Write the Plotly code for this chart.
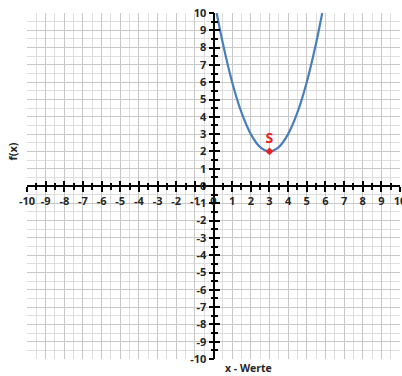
import plotly.graph_objects as go

# Parabola (vertex S at (3, 2))
x_vals = [0.17, 0.5, 1.0, 1.5, 2.0, 2.5, 3.0, 3.5, 4.0, 4.5, 5.0, 5.5, 5.83]
y_vals = [10.0, 8.25, 6.0, 4.25, 3.0, 2.25, 2.0, 2.25, 3.0, 4.25, 6.0, 8.25, 10.0]
vertex_x = [3]
vertex_y = [2]
vertex_label = ["S"]
tick_vals = list(range(-10, 11))
tick_text = [str(v) for v in tick_vals]

W, H = 402, 376
L, R, T, B = 27, 2, 13, 17

font_fam = "Open Sans"
tick_font = dict(family=font_fam, size=11, color="#262626", weight="bold")

fig = go.Figure()

fig.add_trace(go.Scatter(
    x=x_vals, y=y_vals, mode="lines",
    line=dict(color="#4a7ebb", width=2.2, shape="spline"),
    hoverinfo="skip", showlegend=False,
))
fig.add_trace(go.Scatter(
    x=vertex_x, y=vertex_y, mode="markers+text",
    marker=dict(symbol="diamond", size=6, color="#e8221e"),
    text=vertex_label, textposition="top center",
    textfont=dict(family=font_fam, size=14, color="#e8221e", weight="bold"),
    showlegend=False,
))
# helper traces so the crossing axes at the origin get rendered
for xa, ya in (("x2", "y2"), ("x3", "y3")):
    fig.add_trace(go.Scatter(x=[0], y=[0], xaxis=xa, yaxis=ya, mode="markers",
                             marker=dict(opacity=0), hoverinfo="skip",
                             showlegend=False))

grid = dict(
    range=[-10, 10], dtick=1, tick0=0,
    showgrid=True, gridcolor="#c8c8c8", gridwidth=1,
    minor=dict(dtick=0.5, showgrid=True, gridcolor="#dedede", gridwidth=1),
    zeroline=True, zerolinecolor="#000000", zerolinewidth=2,
    showticklabels=False, showline=False, ticks="",
    fixedrange=True, automargin=False,
)

fig.update_layout(
    width=W, height=H,
    margin=dict(l=L, r=R, t=T, b=B, autoexpand=False),
    paper_bgcolor="white", plot_bgcolor="white",
    xaxis=dict(**grid, domain=[0, 1]),
    yaxis=dict(**grid, domain=[0, 1]),
    # axis through the origin: labels and outer tick marks
    xaxis2=dict(matches="x", overlaying="x", anchor="free", position=0.5,
                side="bottom", range=[-10, 10], automargin=False,
                tickmode="array", tickvals=tick_vals, ticktext=tick_text,
                ticklabeloverflow="allow",
                ticks="outside", ticklen=5, tickwidth=2, tickcolor="#000",
                minor=dict(dtick=0.5, ticks="outside", ticklen=3,
                           tickwidth=1.5, tickcolor="#000", showgrid=False),
                tickfont=tick_font, showgrid=False, zeroline=False,
                showline=False),
    yaxis2=dict(matches="y", overlaying="y", anchor="free", position=0.5,
                side="left", range=[-10, 10], automargin=False,
                tickmode="array", tickvals=tick_vals, ticktext=tick_text,
                ticklabeloverflow="allow",
                ticks="outside", ticklen=5, tickwidth=2, tickcolor="#000",
                minor=dict(dtick=0.5, ticks="outside", ticklen=3,
                           tickwidth=1.5, tickcolor="#000", showgrid=False),
                tickfont=tick_font, showgrid=False, zeroline=False,
                showline=False),
    # matching inner tick marks so the ticks cross the axes
    xaxis3=dict(matches="x", overlaying="x", anchor="free", position=0.5,
                side="bottom", range=[-10, 10], dtick=1, automargin=False,
                ticks="inside", ticklen=5, tickwidth=2, tickcolor="#000",
                minor=dict(dtick=0.5, ticks="inside", ticklen=3,
                           tickwidth=1.5, tickcolor="#000", showgrid=False),
                showticklabels=False, showgrid=False, zeroline=False,
                showline=False),
    yaxis3=dict(matches="y", overlaying="y", anchor="free", position=0.5,
                side="left", range=[-10, 10], dtick=1, automargin=False,
                ticks="inside", ticklen=5, tickwidth=2, tickcolor="#000",
                minor=dict(dtick=0.5, ticks="inside", ticklen=3,
                           tickwidth=1.5, tickcolor="#000", showgrid=False),
                showticklabels=False, showgrid=False, zeroline=False,
                showline=False),
    annotations=[
        dict(text="f(x)", xref="paper", yref="paper", x=-0.04, y=0.6,
             xanchor="center", yanchor="middle",
             textangle=-90, showarrow=False,
             font=dict(family=font_fam, size=11, color="#262626", weight="bold")),
        dict(text="x - Werte", xref="paper", yref="paper", x=0.5925, y=-0.026,
             xanchor="center", yanchor="middle", showarrow=False,
             font=dict(family=font_fam, size=10.5, color="#262626", weight="bold")),
    ],
)

fig.write_html("out.html")
